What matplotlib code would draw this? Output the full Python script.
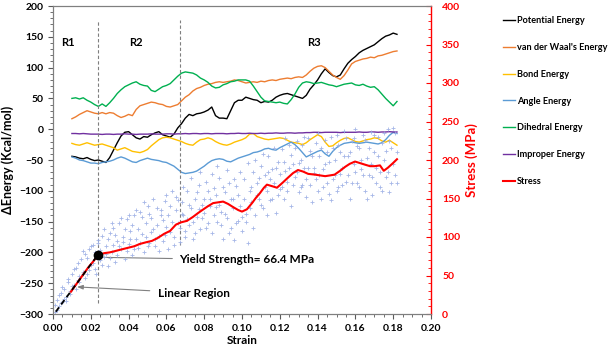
import matplotlib
matplotlib.use("Agg")
import matplotlib.pyplot as plt
import numpy as np
from matplotlib.ticker import MultipleLocator, FormatStrFormatter

# ---------------- data ----------------
energy_strain = np.round(np.arange(0.010, 0.1821, 0.002), 3)

potential = [-44, -45, -47, -48, -46, -49, -51, -50, -52, -54,
             -46, -34, -22, -11, -5, -4, -9, -14, -16, -12,
             -13, -9, -6, -4, -9, -11, -13, -8, 2, 9,
             18, 24, 22, 25, 26, 28, 31, 36, 22, 18,
             18, 17, 30, 43, 47, 47, 52, 50, 48, 47,
             43, 45, 44, 47, 52, 55, 57, 58, 56, 54,
             52, 50, 55, 65, 72, 80, 90, 98, 92, 87,
             85, 88, 98, 107, 113, 118, 124, 128, 131, 134,
             137, 142, 147, 151, 153, 156, 154]

vdw = [17, 20, 24, 27, 30, 28, 26, 25, 27, 25,
       27, 26, 22, 19, 21, 24, 22, 32, 38, 40,
       42, 44, 43, 41, 40, 37, 36, 38, 40, 46,
       52, 56, 62, 66, 68, 71, 73, 74, 76, 77,
       76, 77, 78, 80, 79, 77, 75, 76, 77, 76,
       78, 77, 79, 80, 79, 81, 82, 83, 82, 84,
       85, 84, 88, 94, 99, 102, 103, 100, 94, 88,
       84, 81, 87, 96, 106, 110, 112, 114, 115, 117,
       116, 119, 120, 122, 124, 126, 127]

bond = [-23, -25, -26, -24, -22, -24, -26, -25, -24, -26,
        -28, -30, -34, -32, -30, -33, -36, -37, -38, -36,
        -33, -27, -22, -17, -14, -13, -14, -16, -18, -20,
        -23, -25, -26, -21, -17, -16, -14, -16, -20, -23,
        -25, -26, -24, -21, -19, -17, -14, -8, -7, -12,
        -14, -16, -17, -16, -15, -14, -15, -18, -21, -22,
        -23, -25, -22, -17, -13, -9, -12, -21, -28, -27,
        -22, -18, -15, -14, -17, -20, -21, -19, -17, -16,
        -14, -15, -19, -21, -18, -22, -26]

angle = [-45, -47, -50, -51, -53, -55, -55, -56, -54, -53,
         -52, -50, -47, -45, -47, -50, -53, -54, -51, -49,
         -47, -49, -50, -51, -53, -54, -57, -60, -65, -70,
         -72, -71, -70, -68, -64, -60, -55, -51, -49, -48,
         -49, -52, -53, -50, -47, -45, -43, -41, -38, -37,
         -35, -32, -31, -33, -34, -30, -27, -24, -21, -25,
         -31, -38, -45, -42, -39, -36, -34, -40, -44, -36,
         -30, -26, -23, -22, -21, -22, -23, -22, -21, -22,
         -23, -24, -22, -17, -10, -5, -7]

dihedral = [50, 51, 49, 51, 47, 44, 40, 37, 41, 37,
            43, 50, 58, 64, 69, 72, 75, 77, 73, 71,
            70, 63, 61, 65, 69, 71, 74, 80, 86, 91,
            93, 92, 91, 88, 83, 80, 76, 70, 67, 68,
            72, 74, 77, 78, 80, 80, 80, 78, 70, 61,
            52, 46, 45, 44, 43, 44, 42, 41, 48, 57,
            68, 75, 77, 76, 74, 75, 76, 74, 72, 71,
            69, 71, 73, 74, 75, 72, 71, 73, 70, 68,
            69, 64, 57, 50, 44, 38, 45]

improper = [-7, -7, -7.5, -7, -7.5, -8, -8, -8, -8.5, -8,
            -8, -8.5, -8, -8, -7.5, -8, -8, -8.5, -8, -8,
            -8, -7.5, -8, -8, -8, -7.5, -7.5, -8, -7.5, -7.5,
            -7, -7.5, -7, -7, -7.5, -7, -7, -7.5, -7, -7,
            -7, -7.5, -7, -7, -6.5, -7, -7, -6.5, -7, -7,
            -6.5, -7, -6.5, -6.5, -6, -6.5, -6.5, -6, -6, -6.5,
            -6, -6, -5.5, -5.5, -5, -5, -5.5, -5, -5, -5,
            -5, -5.5, -5, -5, -5, -5, -4.5, -5, -5, -4.5,
            -4.5, -5, -4.5, -4.5, -4, -4.5, -4.5]

stress_strain = [0.0095, 0.0127, 0.0159, 0.0185, 0.0212, 0.0238, 0.027, 0.030, 0.0333, 0.0365,
                 0.0397, 0.043, 0.046, 0.049, 0.0524, 0.0556, 0.0587, 0.062, 0.065, 0.0677,
                 0.0709, 0.074, 0.0767, 0.079, 0.082, 0.0847, 0.0873, 0.090, 0.0926, 0.0952,
                 0.098, 0.100, 0.1026, 0.1053, 0.1074, 0.1095, 0.1116, 0.1132, 0.1159, 0.1185,
                 0.1217, 0.1243, 0.127, 0.1296, 0.1323, 0.135, 0.1386, 0.1413, 0.144, 0.1466,
                 0.149, 0.1519, 0.1545, 0.157, 0.1598, 0.1624, 0.165, 0.1677, 0.1704, 0.173,
                 0.175, 0.1772, 0.1799, 0.182]
stress = [29, 40, 51, 60, 68, 76, 79, 80, 82, 84,
          86, 88, 91, 93, 95, 99, 104, 108, 116, 119,
          121, 126, 131, 135, 140, 144, 145, 146, 143, 139,
          135, 133, 136, 144, 151, 157, 164, 168, 166, 164,
          171, 177, 183, 187, 185, 182, 181, 180, 179, 180,
          181, 186, 191, 195, 198, 196, 194, 192, 192, 193,
          186, 190, 196, 201]

scatter_permil = list(range(1, 183))
scatter_a = [3, 18, 10, 27, 15, 33, 22, 41, 30, 52,
             38, 60, 44, 49, 71, 55, 78, 52, 84, 63,
             90, 58, 76, 96, 70, 101, 74, 88, 62, 105,
             80, 112, 68, 95, 118, 84, 100, 72, 123, 91,
             108, 77, 128, 97, 86, 133, 104, 81, 118, 140,
             92, 125, 110, 88, 138, 101, 129, 95, 147, 113,
             84, 140, 120, 100, 152, 118, 93, 145, 128, 108,
             160, 115, 138, 98, 150, 126, 167, 110, 142, 131,
             172, 118, 150, 105, 163, 139, 120, 176, 133, 97,
             158, 125, 170, 112, 149, 96, 166, 121, 140, 108,
             175, 130, 92, 160, 145, 184, 128, 170, 150, 192,
             138, 180, 160, 205, 148, 188, 170, 131, 198, 162,
             214, 150, 186, 171, 220, 140, 195, 178, 225, 158,
             200, 168, 230, 152, 190, 212, 145, 183, 222, 160,
             205, 150, 188, 226, 170, 198, 148, 216, 180, 232,
             165, 210, 190, 238, 172, 205, 150, 225, 195, 240,
             170, 215, 188, 232, 160, 202, 180, 236, 155, 210,
             190, 230, 165, 222, 200, 178, 240, 158, 215, 195,
             235, 170]
scatter_b = [12, 5, 25, 14, 35, 20, 17, 45, 26, 36,
             58, 33, 66, 41, 50, 82, 47, 73, 57, 88,
             66, 80, 52, 92, 83, 64, 110, 78, 97, 73,
             118, 90, 102, 76, 88, 125, 93, 110, 82, 128,
             98, 115, 85, 135, 110, 92, 126, 145, 100, 88,
             130, 106, 150, 97, 115, 82, 135, 122, 102, 155,
             128, 106, 160, 90, 135, 148, 112, 130, 165, 100,
             123, 142, 176, 120, 105, 158, 136, 185, 125, 150,
             112, 160, 140, 182, 128, 155, 192, 142, 116, 165,
             130, 187, 105, 150, 138, 175, 118, 155, 185, 126,
             150, 120, 196, 138, 165, 112, 200, 155, 176, 142,
             208, 165, 128, 185, 175, 150, 215, 190, 155, 182,
             165, 198, 228, 160, 190, 206, 168, 215, 185, 196,
             165, 220, 190, 175, 228, 168, 205, 190, 175, 235,
             180, 215, 165, 195, 210, 156, 230, 175, 200, 160,
             220, 182, 168, 205, 228, 180, 210, 170, 228, 185,
             218, 165, 200, 180, 226, 150, 215, 195, 178, 232,
             170, 205, 185, 160, 235, 212, 185, 225, 170, 242,
             180, 210]

fit_strain = [0.0015, 0.0235]
fit_stress = [3, 76]
yield_point = (0.024, 77)
region_x = [0.024, 0.0672]
region_bottom = [-282, -188]
region_labels = ["R1", "R2", "R3"]
region_label_x = [0.008, 0.044, 0.138]

# ---------------- plot ----------------
plt.rcParams['font.family'] = ['Lato', 'DejaVu Sans']
plt.rcParams['font.weight'] = 'bold'

fig = plt.figure(figsize=(6.14, 3.48), dpi=100)
ax = fig.add_axes([53/614, 1-314/348, (431-53)/614, (314-6)/348])
ax2 = ax.twinx()

ax.set_xlim(0, 0.2)
ax.set_ylim(-300, 200)
ax2.set_ylim(0, 400)

cols = {'pot': '#000000', 'vdw': '#ED7D31', 'bond': '#FFC000', 'ang': '#5B9BD5',
        'dih': '#00B050', 'imp': '#7030A0', 'str': '#FF0000'}

h1, = ax.plot(energy_strain, potential, color=cols['pot'], lw=1.0, label='Potential Energy')
h2, = ax.plot(energy_strain, vdw, color=cols['vdw'], lw=1.0, label="van der Waal's Energy")
h3, = ax.plot(energy_strain, bond, color=cols['bond'], lw=1.0, label='Bond Energy')
h4, = ax.plot(energy_strain, angle, color=cols['ang'], lw=1.0, label='Angle Energy')
h5, = ax.plot(energy_strain, dihedral, color=cols['dih'], lw=1.0, label='Dihedral Energy')
h6, = ax.plot(energy_strain, improper, color=cols['imp'], lw=1.0, label='Improper Energy')

for xv, yb in zip(region_x, region_bottom):
    ax.plot([xv, xv], [yb, 177], color='#7f7f7f', lw=0.8, ls=(0, (3, 2)))
for lab, xv in zip(region_labels, region_label_x):
    ax.text(xv, 140, lab, ha='center', va='center', fontsize=8, fontweight='bold')

sx = np.array(scatter_permil) / 1000.0
ax2.scatter(sx, scatter_a, marker='+', s=6, color='#9CAFE5', linewidths=0.6, alpha=0.9, zorder=1)
ax2.scatter(sx, scatter_b, marker='+', s=6, color='#9CAFE5', linewidths=0.6, alpha=0.9, zorder=1)
h7, = ax2.plot(stress_strain, stress, color=cols['str'], lw=1.5, label='Stress', zorder=3)
ax2.plot(fit_strain, fit_stress, color='black', lw=1.3, ls=(0, (3, 2)), zorder=4)
ax2.plot([yield_point[0]], [yield_point[1]], 'o', color='black', ms=6, zorder=5)

ax.annotate('Yield Strength= 66.4 MPa', xy=(0.0255, -208), xytext=(0.0668, -212),
            fontsize=8.5, fontweight='bold', va='center', ha='left',
            arrowprops=dict(arrowstyle='-', color='#808080', lw=0.8, shrinkA=3, shrinkB=0))
ax.annotate('Linear Region', xy=(0.0127, -256), xytext=(0.0556, -266),
            fontsize=8.5, fontweight='bold', va='center', ha='left',
            arrowprops=dict(arrowstyle='-|>,head_length=0.4,head_width=0.15', color='#808080',
                            lw=0.8, shrinkA=4, shrinkB=0))

# axes styling
ax.xaxis.set_major_locator(MultipleLocator(0.02))
ax.xaxis.set_minor_locator(MultipleLocator(0.005))
ax.xaxis.set_major_formatter(FormatStrFormatter('%.2f'))
ax.yaxis.set_major_locator(MultipleLocator(50))
ax.yaxis.set_minor_locator(MultipleLocator(10))
ax2.yaxis.set_major_locator(MultipleLocator(50))
ax2.yaxis.set_minor_locator(MultipleLocator(10))

ax.tick_params(axis='both', which='major', direction='out', length=3.5, width=0.8,
               labelsize=7.5, colors='#595959', labelcolor='black')
ax.tick_params(axis='both', which='minor', direction='out', length=2, width=0.6, colors='#595959')
ax.tick_params(axis='y', right=False)
ax2.tick_params(axis='y', which='major', direction='in', length=3.5, width=0.8,
                labelsize=7.5, colors='red', pad=8)
ax2.tick_params(axis='y', which='minor', direction='in', length=2, width=0.6, colors='red')

for lab in ax.get_xticklabels() + ax.get_yticklabels() + ax2.get_yticklabels():
    lab.set_fontweight('bold')

for sp in ['left', 'bottom', 'top']:
    ax.spines[sp].set_color('#7f7f7f')
    ax2.spines[sp].set_color('#7f7f7f')
ax.spines['right'].set_visible(False)
ax2.spines['right'].set_color('red')
ax2.spines['right'].set_linewidth(1.0)

ax.set_xlabel('Strain', fontsize=8.5, fontweight='bold', labelpad=2)
ax.set_ylabel('ΔEnergy (Kcal/mol)', fontsize=9, fontweight='bold', labelpad=4)
ax2.set_ylabel('Stress (MPa)', fontsize=9.5, fontweight='bold', color='red', labelpad=4)

handles = [h1, h2, h3, h4, h5, h6, h7]
fig.legend(handles, [h.get_label() for h in handles], loc='upper left',
           bbox_to_anchor=(503/614, 1-16/348), frameon=False,
           handlelength=1.3, handletextpad=0.2, labelspacing=1.95,
           borderpad=0, borderaxespad=0, prop={'weight': 'bold', 'size': 6.6})

fig.savefig('out.png', dpi=100)
